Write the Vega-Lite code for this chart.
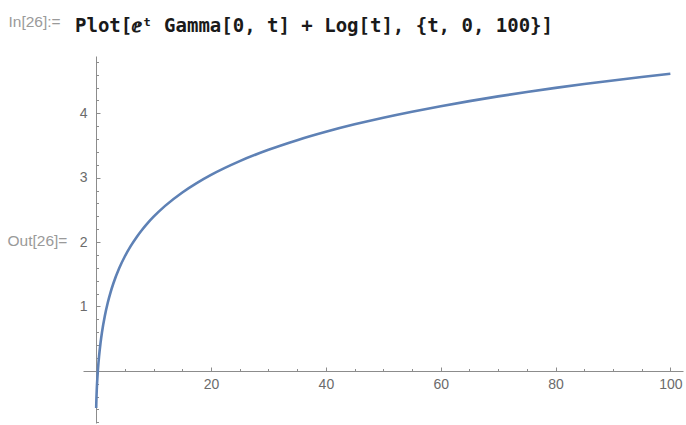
{
  "$schema": "https://vega.github.io/schema/vega-lite/v6.json",
  "width": 600,
  "height": 367,
  "autosize": {"type": "none"},
  "padding": {"left": 83, "top": 56, "right": 3, "bottom": 2},
  "background": "white",
  "config": {"view": {"stroke": null}},
  "title": {
    "text": "Plot[ⅇᵗ Gamma[0, t] + Log[t], {t, 0, 100}]",
    "anchor": "start",
    "frame": "group",
    "font": "DejaVu Sans Mono",
    "fontWeight": "bold",
    "fontSize": 19,
    "color": "#1a1a1a",
    "baseline": "alphabetic",
    "dx": -8,
    "offset": -37
  },
  "data": {
    "values": [
      {"t": 0.0001, "v": -0.5763},
      {"t": 0.001, "v": -0.5699},
      {"t": 0.005, "v": -0.5485},
      {"t": 0.01, "v": -0.5267},
      {"t": 0.02, "v": -0.4895},
      {"t": 0.05, "v": -0.4013},
      {"t": 0.1, "v": -0.2879},
      {"t": 0.2, "v": -0.1161},
      {"t": 0.3, "v": 0.0186},
      {"t": 0.4, "v": 0.1315},
      {"t": 0.5, "v": 0.2298},
      {"t": 0.75, "v": 0.4323},
      {"t": 1, "v": 0.5963},
      {"t": 1.5, "v": 0.8537},
      {"t": 2, "v": 1.0545},
      {"t": 2.5, "v": 1.2198},
      {"t": 3, "v": 1.3607},
      {"t": 4, "v": 1.5926},
      {"t": 5, "v": 1.7799},
      {"t": 6, "v": 1.9370},
      {"t": 7, "v": 2.0726},
      {"t": 8, "v": 2.1917},
      {"t": 9, "v": 2.2980},
      {"t": 10, "v": 2.3941},
      {"t": 12, "v": 2.5622},
      {"t": 15, "v": 2.7708},
      {"t": 17.5, "v": 2.9164},
      {"t": 20, "v": 3.0435},
      {"t": 25, "v": 3.2574},
      {"t": 30, "v": 3.4335},
      {"t": 35, "v": 3.5831},
      {"t": 40, "v": 3.7133},
      {"t": 45, "v": 3.8284},
      {"t": 50, "v": 3.9316},
      {"t": 55, "v": 4.0252},
      {"t": 60, "v": 4.1107},
      {"t": 65, "v": 4.1895},
      {"t": 70, "v": 4.2626},
      {"t": 75, "v": 4.3306},
      {"t": 80, "v": 4.3944},
      {"t": 85, "v": 4.4543},
      {"t": 90, "v": 4.5108},
      {"t": 95, "v": 4.5643},
      {"t": 100, "v": 4.6151}
    ]
  },
  "mark": {"type": "line", "color": "#5E81B5", "strokeWidth": 2.6, "interpolate": "monotone", "clip": true},
  "encoding": {
    "x": {
      "field": "t",
      "type": "quantitative",
      "scale": {"domain": [-2.3, 102.2], "nice": false, "zero": false},
      "axis": {
        "orient": "bottom",
        "offset": -52,
        "values": [5,10,15,20,25,30,35,40,45,50,55,60,65,70,75,80,85,90,95,100],
        "labelExpr": "datum.value % 20 === 0 ? format(datum.value, 'd') : ''",
        "grid": false,
        "domainColor": "#8c8c8c",
        "tickColor": "#8c8c8c",
        "tickSize": {"condition": {"test": "datum.value % 20 === 0", "value": -4}, "value": -2.5},
        "labelPadding": 10,
        "labelFont": "Liberation Sans",
        "labelFontSize": 14,
        "labelColor": "#6b6b6b",
        "labelFlush": false,
        "labelOverlap": false,
        "title": "In[26]:=",
        "titleFont": "Liberation Sans",
        "titleFontSize": 15.5,
        "titleFontWeight": "normal",
        "titleColor": "#9a9a9a",
        "titleAlign": "left",
        "titleBaseline": "middle",
        "titleAngle": 0,
        "titleX": -75,
        "titleY": -350
      }
    },
    "y": {
      "field": "v",
      "type": "quantitative",
      "scale": {"domain": [-0.81, 4.89], "nice": false, "zero": false},
      "axis": {
        "orient": "left",
        "offset": -13,
        "values": [-0.8,-0.6,-0.4,-0.2,0.2,0.4,0.6,0.8,1,1.2,1.4,1.6,1.8,2,2.2,2.4,2.6,2.8,3,3.2,3.4,3.6,3.8,4,4.2,4.4,4.6,4.8],
        "labelExpr": "abs(datum.value - round(datum.value)) < 0.01 ? format(datum.value, 'd') : ''",
        "grid": false,
        "domainColor": "#8c8c8c",
        "tickColor": "#8c8c8c",
        "tickSize": {"condition": {"test": "abs(datum.value - round(datum.value)) < 0.01", "value": -4}, "value": -2.5},
        "labelPadding": 13,
        "labelFont": "Liberation Sans",
        "labelFontSize": 14,
        "labelColor": "#6b6b6b",
        "labelFlush": false,
        "labelOverlap": false,
        "title": "Out[26]=",
        "titleFont": "Liberation Sans",
        "titleFontSize": 15.5,
        "titleFontWeight": "normal",
        "titleColor": "#9a9a9a",
        "titleAlign": "left",
        "titleBaseline": "middle",
        "titleAngle": 0,
        "titleX": -89,
        "titleY": 184
      }
    }
  }
}
